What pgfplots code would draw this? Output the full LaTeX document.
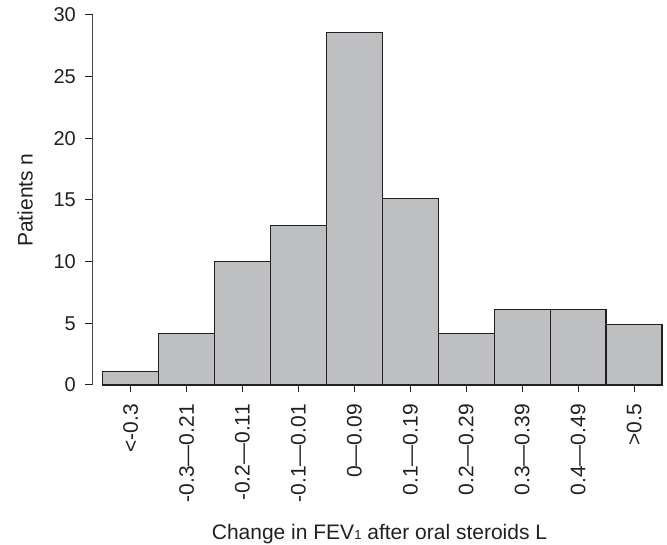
\documentclass[border=0pt]{standalone}
\usepackage{fontspec}
\setmainfont{Liberation Sans}
\usepackage{pgfplots}
\pgfplotsset{compat=1.18}

\definecolor{barfill}{RGB}{190,191,193}
\definecolor{baredge}{RGB}{35,31,32}
\definecolor{axisgray}{RGB}{70,70,70}

\begin{document}
\begin{tikzpicture}
% page frame, in pt from the plot area's lower left corner
\path[use as bounding box] (-93pt,-160pt) rectangle (574pt,385pt);
\begin{axis}[
  scale only axis,
  width=569pt, height=370pt,
  xmin=-0.673, xmax=9.5,
  ymin=0, ymax=30,
  axis x line*=bottom,
  axis y line*=left,
  x axis line style={shorten <=9.7pt, color=baredge, line width=1pt},
  y axis line style={color=axisgray, line width=1pt},
  tick align=outside,
  major tick length=7.5pt,
  every tick/.style={line width=1pt, color=baredge},
  xtick={0,...,9},
  xticklabels={<-0.3,-0.3---0.21,-0.2---0.11,-0.1---0.01,0---0.09,0.1---0.19,0.2---0.29,0.3---0.39,0.4---0.49,>0.5},
  x tick label style={rotate=90, anchor=east, inner sep=0pt, xshift=-11.5pt, font=\fontsize{21}{25}\selectfont},
  ytick={0,5,...,30},
  y tick label style={anchor=east, inner sep=0pt, xshift=-9.5pt, font=\fontsize{20}{24}\selectfont},
  /pgf/number format/assume math mode=true,
  tick label style={color=baredge},
  every axis x label/.style={at={(axis description cs:0.5035,0)}, anchor=base, yshift=-155pt},
  every axis y label/.style={at={(axis description cs:-0.1195,0.5)}, anchor=center, rotate=90},
  label style={font=\fontsize{21}{25}\selectfont, color=baredge},
  xlabel={Change in FEV{\fontsize{13}{13}\selectfont 1} after oral steroids L},
  ylabel={Patients n},
  clip=false,
]
\addplot[ybar, bar width=1, bar shift=0, fill=barfill, draw=baredge, line width=1.2pt]
coordinates {
(0,1.1) (1,4.2) (2,10.0) (3,12.9) (4,28.6)
(5,15.1) (6,4.2) (7,6.1) (8,6.1) (9,4.9)
};
\end{axis}
\end{tikzpicture}
\end{document}
